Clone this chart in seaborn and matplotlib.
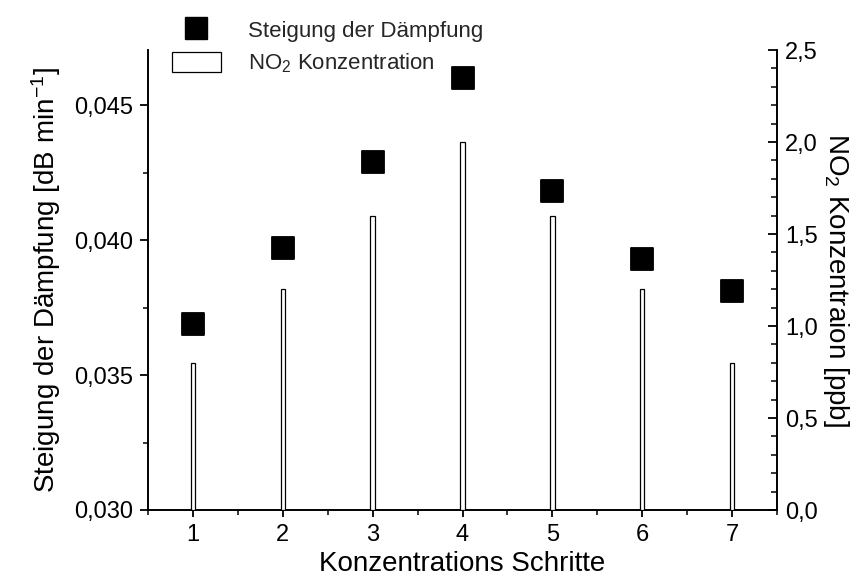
import matplotlib
matplotlib.use("Agg")
import matplotlib.pyplot as plt
from matplotlib.patches import Patch
from matplotlib.lines import Line2D
from matplotlib.ticker import MultipleLocator, FuncFormatter
import seaborn as sns
import pandas as pd

steps = [1, 2, 3, 4, 5, 6, 7]
steigung = [0.0369, 0.0397, 0.0429, 0.0460, 0.0418, 0.0393, 0.0381]
no2 = [0.8, 1.2, 1.6, 2.0, 1.6, 1.2, 0.8]

sns.set_theme(style="ticks")
plt.rcParams['font.family'] = ['Liberation Sans', 'DejaVu Sans']
plt.rcParams['mathtext.fontset'] = 'custom'
plt.rcParams['mathtext.rm'] = 'Liberation Sans'
plt.rcParams['mathtext.it'] = 'Liberation Sans'

df = pd.DataFrame({"step": steps, "steigung": steigung, "no2": no2})

fig = plt.figure(figsize=(8.68, 5.84), dpi=100)
ax = fig.add_axes([148/868, 1-510/584, (777-148)/868, (510-50)/584])
ax2 = ax.twinx()

sns.barplot(data=df, x="step", y="no2", native_scale=True, width=0.05,
            color="white", edgecolor="black", linewidth=0.9, ax=ax2, zorder=2)
sns.scatterplot(data=df, x="step", y="steigung", marker="s", s=16.5**2,
                color="black", edgecolor="black", ax=ax, zorder=3, legend=False)

ax.set_xlim(0.5, 7.5)
ax.set_ylim(0.030, 0.04704)
ax2.set_ylim(0, 2.5)

comma = lambda fmt: FuncFormatter(lambda v, p: (fmt % v).replace('.', ','))

ax.xaxis.set_major_locator(MultipleLocator(1))
ax.xaxis.set_minor_locator(MultipleLocator(0.5))
ax.yaxis.set_major_locator(MultipleLocator(0.005))
ax.yaxis.set_minor_locator(MultipleLocator(0.0025))
ax.yaxis.set_major_formatter(comma('%.3f'))
ax2.yaxis.set_major_locator(MultipleLocator(0.5))
ax2.yaxis.set_minor_locator(MultipleLocator(0.1))
ax2.yaxis.set_major_formatter(comma('%.1f'))
ax2.set_xlim(0.5, 7.5)

for a in (ax, ax2):
    a.spines['top'].set_visible(False)
    for s in a.spines.values():
        s.set_linewidth(1.4)
        s.set_color('black')
ax.spines['right'].set_visible(False)
ax2.spines['left'].set_visible(False)
ax2.spines['bottom'].set_visible(False)

ax.tick_params(axis='both', which='major', direction='out', length=5, width=1.3,
               labelsize=17, colors='black', pad=5)
ax.tick_params(axis='both', which='minor', direction='out', length=3.5, width=1.3)
ax.tick_params(axis='y', which='major', length=6)
ax2.tick_params(axis='y', which='major', direction='in', length=6.5, width=1.3,
                labelsize=17, colors='black', pad=6)
ax2.tick_params(axis='y', which='minor', direction='in', length=4, width=1.3)

ax.set_xlabel("Konzentrations Schritte", fontsize=20, labelpad=4, color='black')
ax.set_ylabel("Steigung der Dämpfung [dB min$^{-1}$]", fontsize=20, labelpad=8, color='black')
ax2.set_ylabel("NO$_2$ Konzentraion [ppb]", fontsize=20, rotation=270, labelpad=24, color='black')

handles = [Line2D([], [], marker='s', color='black', linestyle='None', markersize=16.5),
           Patch(facecolor='white', edgecolor='black', linewidth=0.9)]
fig.legend(handles, ["Steigung der Dämpfung", "NO$_2$ Konzentration"],
           loc='upper left', bbox_to_anchor=(152/868, 1 + 1/584), frameon=False,
           fontsize=16, handlelength=2.2, handleheight=1.0, handletextpad=1.2,
           labelspacing=0.45)

fig.savefig("out.png", dpi=100)
